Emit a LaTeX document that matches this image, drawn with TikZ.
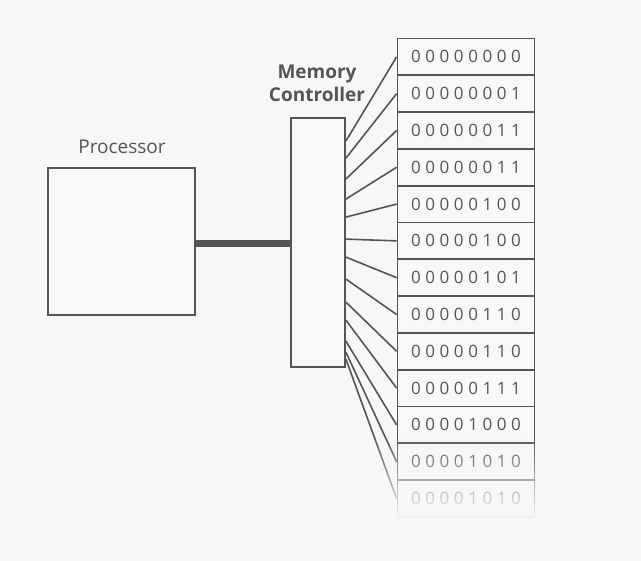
\documentclass[tikz,border=0pt]{standalone}
\usepackage{fontspec}
\setmainfont{Open Sans}
\newfontfamily\bitsfont[LetterSpace=27]{Open Sans}
\usepackage{tikz}
\usetikzlibrary{positioning, calc, fadings}
\definecolor{pagegray}{HTML}{F7F7F7}
\definecolor{inkgray}{HTML}{555555}
\definecolor{boxfill}{HTML}{F8F8F8}

\tikzfading[name=fadedown, top color=transparent!100, bottom color=transparent!0]

\begin{document}
\begin{tikzpicture}[x=1pt, y=-1pt,
  unitbox/.style={rectangle, draw=inkgray, fill=boxfill, line width=1.8pt, inner sep=0pt},
  cell/.style={rectangle, draw=inkgray, fill=boxfill, line width=1.8pt, inner sep=0pt,
    minimum width=137pt, minimum height=36.8pt, text=inkgray,
    font=\bitsfont\fontsize{17}{20}\selectfont},
  caption/.style={text=inkgray, align=center, inner sep=0pt},
  wire/.style={draw=inkgray, line width=1.6pt}
]
  \fill[pagegray] (0,0) rectangle (641,561);

  \node[unitbox, minimum width=147pt, minimum height=147pt] (proc) at (121.5, 241.5) {};
  \node[caption, font=\fontsize{19}{23}\selectfont] (proclbl) at (122, 147) {Processor};

  \node[unitbox, minimum width=54pt, minimum height=249pt] (mc) at (318, 242.5) {};
  \node[caption, font=\bfseries\fontsize{19}{23}\selectfont] (mclbl) at (317, 83) {Memory\\Controller};

  % bus between processor and controller
  \coordinate (bus) at ([yshift=-2pt]proc.east);
  \draw[inkgray, line width=7pt] (bus) -- (bus -| mc.west);

  % memory cells and address lines
  \foreach \i/\bits/\off in {1/00000000/24, 2/00000001/41, 3/00000011/62, 4/00000011/82,
      5/00000100/100, 6/00000100/122, 7/00000101/140, 8/00000110/162, 9/00000110/185,
      10/00000111/203, 11/00001000/224, 12/00001010/235, 13/00001010/242} {
    \node[cell] (c\i) at (466, {38.5 + 36.8*(\i - 0.5)}) {\bits};
    \coordinate (a\i) at ([yshift=-\off pt]mc.north east);
    \draw[wire] (a\i) -- (c\i.west);
  }

  % fade the bottom of the memory column
  \fill[pagegray, path fading=fadedown] (370, 436) rectangle (545, 519);
  \fill[pagegray] (370, 518) rectangle (545, 530);
\end{tikzpicture}
\end{document}
